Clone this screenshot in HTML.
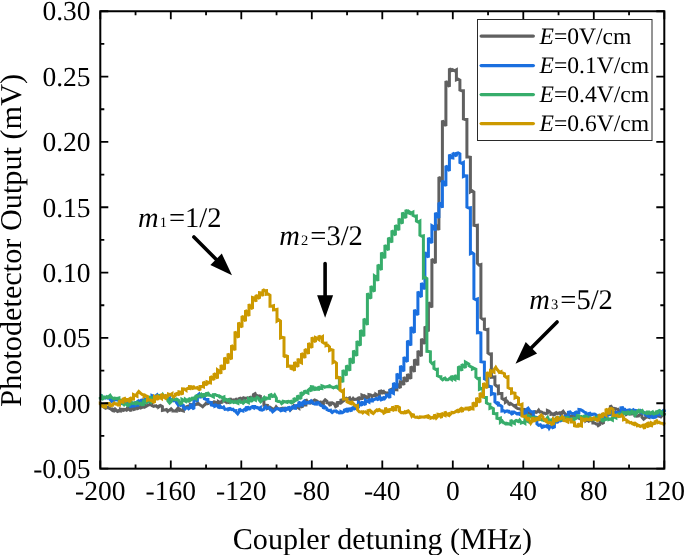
<!DOCTYPE html>
<html><head><meta charset="utf-8"><title>Photodetector Output vs Coupler detuning</title>
<style>html,body{margin:0;padding:0;background:#fff}body{width:685px;height:555px;overflow:hidden}</style></head>
<body>
<svg width="685" height="555" viewBox="0 0 685 555" style="display:block;will-change:transform" text-rendering="geometricPrecision">
<rect width="685" height="555" fill="#fff"/>
<g fill="none" stroke-width="3" stroke-linejoin="miter" stroke-miterlimit="2.2" stroke-linecap="butt">
<path stroke="#606060" d="M100.30,405.5L101.15,404.4L102.90,405.7L102.90,406.5L104.65,407.6L106.40,406.1L106.40,408.0L108.15,407.4L109.90,408.7L109.90,408.1L111.65,409.7L113.40,408.4L113.40,411.9L115.15,409.1L116.90,410.6L116.90,412.0L118.65,410.7L120.40,411.0L120.40,409.0L122.15,409.5L123.90,411.3L123.90,409.4L125.65,409.5L127.40,410.8L127.40,408.1L129.15,407.6L130.90,411.4L130.90,407.9L132.65,407.1L134.40,410.6L134.40,406.4L136.15,407.4L137.90,409.5L137.90,407.3L139.65,406.7L141.40,408.7L141.40,404.9L143.15,406.6L144.90,407.9L144.90,405.1L146.65,406.1L148.40,405.0L148.40,405.0L150.15,404.3L151.90,404.3L151.90,405.6L153.65,406.4L155.40,405.7L155.40,405.1L157.15,406.8L158.90,406.0L158.90,406.8L160.65,405.6L162.40,406.7L162.40,410.4L164.15,410.0L165.90,409.8L165.90,408.5L167.65,411.3L169.40,410.1L169.40,410.6L171.15,408.8L172.90,410.6L172.90,411.1L174.65,411.1L176.40,411.2L176.40,410.1L178.15,407.8L179.90,411.6L179.90,409.3L181.65,410.4L183.40,411.0L183.40,406.9L185.15,407.3L186.90,407.4L186.90,406.6L188.65,406.0L190.40,408.2L190.40,404.3L192.15,404.8L193.90,406.5L193.90,404.3L195.65,404.6L197.40,404.3L197.40,402.4L199.15,404.3L200.90,405.4L200.90,405.4L202.65,406.7L204.40,404.9L204.40,405.3L206.15,403.1L207.90,404.4L207.90,403.9L209.65,402.4L211.40,403.2L211.40,403.3L213.15,402.4L214.90,404.3L214.90,402.0L216.65,402.5L218.40,404.9L218.40,401.6L220.15,402.6L221.90,402.3L221.90,401.0L223.65,400.5L225.40,401.7L225.40,401.6L227.15,401.0L228.90,403.4L228.90,399.5L230.65,399.2L232.40,401.3L232.40,399.0L234.15,401.6L235.90,401.8L235.90,398.1L237.65,401.8L239.40,401.1L239.40,397.4L241.15,399.5L242.90,399.3L242.90,397.0L244.65,398.9L246.40,397.9L246.40,397.5L248.15,398.8L249.90,397.3L249.90,396.3L251.65,399.7L253.40,398.9L253.40,394.7L255.15,393.7L256.90,397.8L256.90,395.1L258.65,396.8L260.40,395.3L260.40,399.4L262.15,400.2L263.90,399.6L263.90,405.2L265.65,405.2L267.40,405.3L267.40,408.4L269.15,407.6L270.90,408.5L270.90,407.8L272.65,409.0L274.40,409.0L274.40,409.8L276.15,406.8L277.90,409.0L277.90,408.9L279.65,409.5L281.40,408.1L281.40,407.6L283.15,409.4L284.90,409.4L284.90,408.4L286.65,408.8L288.40,408.3L288.40,407.7L290.15,410.1L291.90,408.4L291.90,407.8L293.65,405.8L295.40,408.5L295.40,407.4L297.15,407.0L298.90,408.2L298.90,404.9L300.65,405.6L302.40,407.4L302.40,402.7L304.15,404.9L305.90,405.0L305.90,399.2L307.65,402.7L309.40,403.0L309.40,400.8L311.15,402.4L312.90,403.1L312.90,401.0L314.65,400.0L316.40,400.7L316.40,402.1L318.15,401.8L319.90,403.1L319.90,401.2L321.65,403.7L323.40,403.7L323.40,401.8L325.15,399.9L326.90,401.3L326.90,402.7L328.65,403.1L330.40,406.0L330.40,402.8L332.15,402.7L333.90,404.0L333.90,402.9L335.65,406.6L337.40,405.7L337.40,402.5L339.15,402.3L340.90,403.9L340.90,399.0L342.65,401.5L344.40,400.2L344.40,400.0L346.15,398.4L347.90,400.3L347.90,398.6L349.65,397.7L351.40,401.6L351.40,400.7L353.15,398.4L354.90,400.2L354.90,399.5L356.65,399.1L358.40,400.1L358.40,397.1L360.15,398.6L361.90,398.6L361.90,395.1L363.65,395.9L365.40,398.9L365.40,396.3L367.15,397.3L368.90,398.5L368.90,394.6L370.65,395.0L372.40,396.1L372.40,396.3L374.15,395.1L375.90,396.4L375.90,394.2L377.65,395.2L379.40,394.8L379.40,391.5L381.15,391.0L382.90,393.9L382.90,390.4L384.65,392.9L386.40,392.5L386.40,392.0L388.15,394.5L389.90,392.8L389.90,390.0L391.65,389.2L393.40,393.0L393.40,387.1L395.15,389.6L396.90,389.8L396.90,383.5L398.65,385.8L400.40,388.0L400.40,381.7L402.15,381.6L403.90,385.0L403.90,377.0L405.65,380.1L407.40,381.4L407.40,374.0L409.15,376.6L410.90,378.7L410.90,366.4L412.65,368.3L414.40,371.9L414.40,359.4L416.15,361.4L417.90,365.5L417.90,350.8L419.65,353.4L421.40,356.3L421.40,338.8L423.15,341.2L424.90,343.8L424.90,326.4L426.65,328.7L428.40,331.5L428.40,302.6L430.15,304.6L431.90,307.5L431.90,259.1L433.65,260.8L435.40,263.2L435.40,224.6L437.15,226.4L438.90,230.1L438.90,177.0L440.65,179.3L442.40,182.2L442.40,120.6L444.15,123.4L445.90,126.0L445.90,81.0L447.65,83.8L449.40,86.7L449.40,68.5L451.15,70.4L452.90,68.9L452.90,69.8L454.65,70.8L456.40,69.8L456.40,79.9L458.15,79.2L459.90,80.1L459.90,90.0L461.65,90.8L463.40,90.8L463.40,119.0L465.15,119.6L466.90,119.5L466.90,156.9L468.65,156.9L470.40,157.3L470.40,191.8L472.15,190.7L473.90,192.0L473.90,225.2L475.65,225.6L477.40,225.3L477.40,263.3L479.15,265.1L480.90,264.6L480.90,317.9L482.65,319.3L484.40,319.1L484.40,329.2L486.15,329.8L487.90,329.4L487.90,352.9L489.65,354.1L491.40,353.9L491.40,377.2L493.15,376.9L494.90,376.8L494.90,384.6L496.65,386.2L498.40,386.0L498.40,393.7L500.15,393.5L501.90,393.5L501.90,398.4L503.65,399.6L505.40,398.7L505.40,402.3L507.15,401.2L508.90,403.4L508.90,405.1L510.65,403.4L512.40,404.6L512.40,404.6L514.15,406.0L515.90,405.4L515.90,407.5L517.65,408.5L519.40,408.7L519.40,408.3L521.15,410.1L522.90,409.7L522.90,409.8L524.65,409.6L526.40,410.0L526.40,410.5L528.15,413.2L529.90,412.6L529.90,413.1L531.65,415.1L533.40,412.4L533.40,412.3L535.15,411.6L536.90,413.0L536.90,412.3L538.65,410.1L540.40,413.0L540.40,411.6L542.15,412.2L543.90,414.1L543.90,412.6L545.65,413.9L547.40,413.3L547.40,410.5L549.15,411.2L550.90,413.1L550.90,414.3L552.65,413.9L554.40,415.7L554.40,413.6L556.15,412.7L557.90,414.4L557.90,413.4L559.65,412.8L561.40,415.3L561.40,412.8L563.15,411.2L564.90,413.9L564.90,413.3L566.65,415.7L568.40,414.6L568.40,415.9L570.15,416.5L571.90,415.8L571.90,416.0L573.65,416.8L575.40,416.9L575.40,416.1L577.15,416.8L578.90,417.8L578.90,418.2L580.65,419.0L582.40,419.0L582.40,418.1L584.15,417.9L585.90,419.8L585.90,420.6L587.65,419.4L589.40,422.1L589.40,421.0L591.15,419.6L592.90,422.0L592.90,422.9L594.65,422.9L596.40,424.3L596.40,423.0L598.15,425.6L599.90,424.4L599.90,419.8L601.65,422.1L603.40,423.8L603.40,414.7L605.15,416.1L606.90,418.5L606.90,409.8L608.65,412.1L610.40,415.0L610.40,405.4L612.15,407.9L613.90,408.7L613.90,407.8L615.65,409.2L617.40,408.6L617.40,408.5L619.15,410.9L620.90,410.9L620.90,409.5L622.65,412.6L624.40,411.5L624.40,411.1L626.15,414.5L627.90,413.4L627.90,412.2L629.65,413.9L631.40,413.9L631.40,413.5L633.15,412.1L634.90,415.2L634.90,415.8L636.65,416.2L638.40,415.9L638.40,415.6L640.15,414.4L641.90,415.5L641.90,417.2L643.65,419.2L645.40,417.8L645.40,417.5L647.15,416.8L648.90,417.4L648.90,415.6L650.65,414.5L652.40,416.3L652.40,414.6L654.15,416.9L655.90,415.1L655.90,414.1L657.65,415.9L659.40,416.3L659.40,413.7L661.15,416.5L662.90,414.6L662.90,412.7L664.30,413.9L664.30,415.0"/>
<path stroke="#1A6FDF" d="M100.30,395.9L101.15,395.6L102.90,398.8L102.90,398.0L104.65,397.2L106.40,398.7L106.40,398.5L108.15,397.2L109.90,399.0L109.90,399.3L111.65,401.5L113.40,400.8L113.40,399.9L115.15,399.4L116.90,399.7L116.90,399.8L118.65,399.6L120.40,400.5L120.40,402.9L122.15,403.6L123.90,403.1L123.90,402.0L125.65,401.2L127.40,403.2L127.40,406.0L129.15,404.3L130.90,407.6L130.90,403.9L132.65,406.1L134.40,405.9L134.40,401.8L136.15,405.2L137.90,405.2L137.90,400.2L139.65,401.5L141.40,401.5L141.40,399.1L143.15,401.9L144.90,401.0L144.90,398.1L146.65,401.1L148.40,401.3L148.40,396.9L150.15,399.5L151.90,398.9L151.90,395.5L153.65,396.2L155.40,398.2L155.40,396.1L157.15,394.7L158.90,397.6L158.90,396.0L160.65,396.5L162.40,396.2L162.40,396.2L164.15,396.6L165.90,396.3L165.90,397.2L167.65,399.2L169.40,398.2L169.40,399.4L171.15,400.0L172.90,400.4L172.90,401.4L174.65,399.6L176.40,402.0L176.40,402.4L178.15,404.8L179.90,402.9L179.90,406.1L181.65,404.7L183.40,405.5L183.40,407.3L185.15,408.9L186.90,407.2L186.90,406.9L188.65,408.8L190.40,407.5L190.40,403.9L192.15,407.5L193.90,409.0L193.90,397.3L195.65,398.7L197.40,401.7L197.40,395.5L199.15,394.0L200.90,398.3L200.90,395.7L202.65,396.5L204.40,397.7L204.40,398.8L206.15,399.4L207.90,399.4L207.90,401.7L209.65,402.3L211.40,402.6L211.40,405.1L213.15,405.4L214.90,405.0L214.90,406.2L216.65,405.5L218.40,405.8L218.40,408.2L220.15,406.0L221.90,408.4L221.90,408.2L223.65,407.0L225.40,410.2L225.40,409.2L227.15,409.0L228.90,408.6L228.90,409.5L230.65,408.8L232.40,410.2L232.40,408.3L234.15,410.7L235.90,410.6L235.90,412.0L237.65,413.9L239.40,411.2L239.40,408.8L241.15,410.5L242.90,411.0L242.90,410.5L244.65,409.3L246.40,411.0L246.40,407.5L248.15,407.3L249.90,410.0L249.90,408.1L251.65,406.9L253.40,407.8L253.40,406.4L255.15,406.4L256.90,408.5L256.90,406.7L258.65,408.6L260.40,407.6L260.40,409.8L262.15,410.2L263.90,409.4L263.90,408.6L265.65,406.7L267.40,409.1L267.40,408.2L269.15,407.6L270.90,410.8L270.90,409.2L272.65,411.8L274.40,410.4L274.40,410.4L276.15,408.8L277.90,408.6L277.90,408.6L279.65,409.3L281.40,411.7L281.40,408.3L283.15,410.0L284.90,410.6L284.90,407.5L286.65,409.5L288.40,408.9L288.40,406.5L290.15,409.7L291.90,407.5L291.90,406.0L293.65,408.0L295.40,408.2L295.40,405.7L297.15,405.6L298.90,406.1L298.90,401.5L300.65,404.9L302.40,405.2L302.40,402.6L304.15,401.1L305.90,404.5L305.90,402.7L307.65,402.5L309.40,402.6L309.40,402.4L311.15,400.9L312.90,402.6L312.90,403.2L314.65,404.0L316.40,404.1L316.40,402.8L318.15,402.5L319.90,404.0L319.90,404.8L321.65,405.8L323.40,406.3L323.40,408.8L325.15,407.0L326.90,408.6L326.90,409.6L328.65,410.5L330.40,410.2L330.40,410.9L332.15,412.5L333.90,411.2L333.90,411.0L335.65,410.8L337.40,412.8L337.40,411.8L339.15,413.0L340.90,412.8L340.90,411.7L342.65,412.6L344.40,411.4L344.40,410.0L346.15,409.3L347.90,412.2L347.90,409.1L349.65,408.9L351.40,411.4L351.40,408.5L353.15,407.5L354.90,409.8L354.90,404.6L356.65,407.2L358.40,406.9L358.40,402.5L360.15,403.7L361.90,405.8L361.90,402.5L363.65,402.9L365.40,405.1L365.40,400.1L367.15,401.2L368.90,402.1L368.90,398.9L370.65,401.0L372.40,401.0L372.40,399.5L374.15,399.8L375.90,398.8L375.90,397.6L377.65,399.6L379.40,399.0L379.40,395.8L381.15,399.9L382.90,399.2L382.90,397.0L384.65,398.5L386.40,396.4L386.40,395.1L388.15,395.1L389.90,398.1L389.90,389.2L391.65,392.3L393.40,393.2L393.40,382.9L395.15,385.0L396.90,388.2L396.90,373.4L398.65,377.4L400.40,378.4L400.40,365.8L402.15,369.1L403.90,371.2L403.90,356.9L405.65,359.8L407.40,361.8L407.40,340.8L409.15,342.4L410.90,345.5L410.90,326.9L412.65,330.4L414.40,332.8L414.40,309.7L416.15,312.7L417.90,315.1L417.90,291.6L419.65,294.3L421.40,297.1L421.40,283.0L423.15,286.3L424.90,289.3L424.90,252.3L426.65,254.6L428.40,257.4L428.40,237.7L430.15,240.9L431.90,243.1L431.90,225.6L433.65,226.7L435.40,230.6L435.40,212.7L437.15,215.8L438.90,217.9L438.90,202.8L440.65,204.1L442.40,207.7L442.40,180.4L444.15,183.8L445.90,185.9L445.90,165.7L447.65,167.9L449.40,171.1L449.40,154.4L451.15,157.7L452.90,158.0L452.90,153.0L454.65,154.5L456.40,156.3L456.40,153.4L458.15,152.9L459.90,153.8L459.90,162.6L461.65,163.3L463.40,162.4L463.40,176.5L465.15,175.8L466.90,175.9L466.90,207.1L468.65,208.0L470.40,207.7L470.40,253.6L472.15,252.8L473.90,254.0L473.90,298.6L475.65,299.6L477.40,298.9L477.40,332.8L479.15,332.5L480.90,332.9L480.90,361.7L482.65,362.1L484.40,362.2L484.40,378.8L486.15,379.7L487.90,378.6L487.90,386.7L489.65,386.3L491.40,386.7L491.40,394.2L493.15,393.5L494.90,394.0L494.90,401.8L496.65,403.4L498.40,402.1L498.40,405.2L500.15,405.3L501.90,406.6L501.90,411.0L503.65,410.7L505.40,411.3L505.40,411.7L507.15,410.9L508.90,411.3L508.90,412.1L510.65,412.5L512.40,414.8L512.40,412.1L514.15,412.1L515.90,413.2L515.90,413.1L517.65,413.7L519.40,414.4L519.40,413.3L521.15,412.9L522.90,414.0L522.90,411.0L524.65,412.1L526.40,415.4L526.40,409.5L528.15,408.2L529.90,410.8L529.90,410.8L531.65,412.0L533.40,411.7L533.40,417.7L535.15,417.0L536.90,417.4L536.90,423.8L538.65,425.3L540.40,424.8L540.40,424.8L542.15,427.4L543.90,426.8L543.90,425.9L545.65,426.1L547.40,427.0L547.40,424.2L549.15,428.2L550.90,425.3L550.90,425.1L552.65,427.6L554.40,426.9L554.40,421.5L556.15,420.8L557.90,423.1L557.90,418.0L559.65,418.7L561.40,421.7L561.40,417.1L563.15,418.0L564.90,417.7L564.90,415.3L566.65,417.0L568.40,418.4L568.40,412.3L570.15,411.9L571.90,414.1L571.90,413.5L573.65,413.6L575.40,414.7L575.40,411.4L577.15,413.0L578.90,412.7L578.90,409.5L580.65,409.7L582.40,410.6L582.40,410.7L584.15,412.0L585.90,412.8L585.90,414.1L587.65,414.0L589.40,415.4L589.40,412.2L591.15,415.0L592.90,414.4L592.90,414.1L594.65,414.0L596.40,415.1L596.40,415.7L598.15,417.8L599.90,417.7L599.90,415.4L601.65,415.5L603.40,418.0L603.40,414.6L605.15,417.0L606.90,417.5L606.90,412.3L608.65,414.6L610.40,414.5L610.40,411.6L612.15,413.0L613.90,413.5L613.90,412.3L615.65,412.4L617.40,412.2L617.40,411.8L619.15,413.3L620.90,412.8L620.90,407.9L622.65,407.7L624.40,410.6L624.40,408.3L626.15,412.0L627.90,411.6L627.90,410.2L629.65,409.8L631.40,410.5L631.40,411.1L633.15,409.9L634.90,412.6L634.90,410.3L636.65,410.6L638.40,412.0L638.40,412.2L640.15,410.7L641.90,413.2L641.90,414.0L643.65,412.3L645.40,413.5L645.40,414.8L647.15,415.6L648.90,416.9L648.90,416.6L650.65,417.1L652.40,417.4L652.40,415.5L654.15,416.2L655.90,417.9L655.90,412.4L657.65,414.2L659.40,414.9L659.40,411.5L661.15,411.9L662.90,413.2L662.90,411.0L664.30,409.7L664.30,412.1"/>
<path stroke="#37AD6B" d="M100.30,396.9L100.30,398.3L101.40,398.7L101.40,394.8L103.15,398.4L104.90,396.6L104.90,397.7L106.65,396.7L108.40,398.4L108.40,397.0L110.15,395.4L111.90,398.1L111.90,397.4L113.65,399.0L115.40,398.7L115.40,398.2L117.15,398.4L118.90,398.0L118.90,400.9L120.65,400.4L122.40,401.4L122.40,403.1L124.15,404.9L125.90,403.2L125.90,403.0L127.65,405.6L129.40,405.0L129.40,401.6L131.15,401.6L132.90,404.6L132.90,403.5L134.65,402.9L136.40,404.6L136.40,401.5L138.15,403.2L139.90,403.9L139.90,402.4L141.65,404.7L143.40,404.6L143.40,401.3L145.15,400.4L146.90,403.7L146.90,400.5L148.65,400.8L150.40,402.0L150.40,397.5L152.15,398.0L153.90,398.2L153.90,396.2L155.65,398.4L157.40,395.9L157.40,396.4L159.15,395.5L160.90,397.3L160.90,397.4L162.65,394.7L164.40,397.6L164.40,397.4L166.15,396.7L167.90,398.5L167.90,400.9L169.65,403.1L171.40,401.3L171.40,400.2L173.15,398.1L174.90,400.2L174.90,400.6L176.65,399.1L178.40,400.2L178.40,400.4L180.15,403.9L181.90,403.2L181.90,399.3L183.65,400.2L185.40,401.2L185.40,399.3L187.15,400.4L188.90,401.8L188.90,398.1L190.65,400.1L192.40,399.1L192.40,398.2L194.15,398.0L195.90,398.8L195.90,395.1L197.65,396.6L199.40,395.9L199.40,395.8L201.15,394.4L202.90,397.6L202.90,394.5L204.65,394.3L206.40,396.4L206.40,393.5L208.15,393.1L209.90,396.2L209.90,395.1L211.65,396.0L213.40,396.9L213.40,394.6L215.15,394.5L216.90,395.5L216.90,395.5L218.65,395.9L220.40,397.7L220.40,396.6L222.15,397.6L223.90,396.9L223.90,400.4L225.65,399.3L227.40,400.0L227.40,401.8L229.15,399.7L230.90,401.7L230.90,402.2L232.65,401.5L234.40,403.2L234.40,400.8L236.15,402.4L237.90,403.2L237.90,401.2L239.65,400.6L241.40,403.1L241.40,401.6L243.15,403.2L244.90,401.6L244.90,401.0L246.65,401.7L248.40,402.6L248.40,398.6L250.15,399.4L251.90,401.9L251.90,398.3L253.65,399.1L255.40,400.0L255.40,399.2L257.15,397.3L258.90,398.5L258.90,399.6L260.65,401.7L262.40,399.9L262.40,399.3L264.15,397.5L265.90,400.2L265.90,397.9L267.65,398.2L269.40,398.3L269.40,395.2L271.15,394.6L272.90,397.6L272.90,397.1L274.65,395.0L276.40,398.1L276.40,400.7L278.15,401.5L279.90,401.3L279.90,401.0L281.65,403.6L283.40,402.2L283.40,401.3L285.15,401.7L286.90,402.2L286.90,401.6L288.65,401.4L290.40,402.3L290.40,400.4L292.15,402.5L293.90,401.6L293.90,398.0L295.65,400.4L297.40,399.6L297.40,395.4L299.15,397.4L300.90,398.9L300.90,392.3L302.65,394.5L304.40,392.9L304.40,390.6L306.15,392.3L307.90,393.0L307.90,390.5L309.65,389.0L311.40,391.2L311.40,386.6L313.15,386.8L314.90,390.7L314.90,387.3L316.65,389.1L318.40,389.3L318.40,386.6L320.15,388.3L321.90,388.5L321.90,385.8L323.65,386.4L325.40,386.9L325.40,387.1L327.15,386.6L328.90,386.7L328.90,385.1L330.65,386.5L332.40,387.3L332.40,387.2L334.15,387.5L335.90,387.2L335.90,385.5L337.65,387.9L339.40,389.2L339.40,376.9L341.15,379.0L342.90,382.2L342.90,369.9L344.65,372.9L346.40,375.5L346.40,365.6L348.15,367.4L349.90,370.7L349.90,358.2L351.65,361.0L353.40,363.2L353.40,350.4L355.15,353.6L356.90,355.7L356.90,341.0L358.65,343.5L360.40,345.4L360.40,330.2L362.15,332.6L363.90,336.3L363.90,318.8L365.65,321.0L367.40,324.9L367.40,293.2L369.15,297.1L370.90,298.4L370.90,286.1L372.65,289.2L374.40,291.6L374.40,275.9L376.15,277.1L377.90,281.0L377.90,264.8L379.65,266.3L381.40,270.0L381.40,252.5L383.15,255.2L384.90,258.3L384.90,245.1L386.65,247.2L388.40,250.2L388.40,237.7L390.15,239.7L391.90,242.4L391.90,230.4L393.65,233.0L395.40,235.3L395.40,225.3L397.15,227.1L398.90,230.2L398.90,218.4L400.65,221.3L402.40,223.5L402.40,212.4L404.15,215.3L405.90,218.1L405.90,209.7L407.65,212.6L409.40,213.3L409.40,211.9L411.15,213.1L412.90,212.2L412.90,215.4L414.65,216.2L416.40,216.0L416.40,221.2L418.15,222.1L419.90,221.1L419.90,235.2L421.65,236.2L423.40,235.8L423.40,278.0L425.15,277.4L426.90,278.6L426.90,351.3L428.65,351.5L430.40,351.8L430.40,361.7L432.15,363.5L433.90,362.5L433.90,368.4L435.65,369.4L437.40,369.2L437.40,375.8L439.15,376.5L440.90,376.7L440.90,378.4L442.65,379.9L444.40,378.6L444.40,377.2L446.15,379.7L447.90,379.8L447.90,379.8L449.65,378.3L451.40,379.5L451.40,375.8L453.15,378.4L454.90,379.4L454.90,375.0L456.65,378.1L458.40,378.5L458.40,366.4L460.15,367.8L461.90,370.8L461.90,364.3L463.65,365.7L465.40,367.9L465.40,362.1L467.15,363.1L468.90,364.1L468.90,365.6L470.65,366.7L472.40,367.5L472.40,369.0L474.15,368.3L475.90,369.1L475.90,377.1L477.65,378.6L479.40,378.4L479.40,389.2L481.15,388.5L482.90,389.3L482.90,396.8L484.65,397.6L486.40,397.6L486.40,402.9L488.15,403.9L489.90,404.1L489.90,408.3L491.65,407.6L493.40,408.6L493.40,413.5L495.15,413.8L496.90,413.7L496.90,418.2L498.65,418.6L500.40,418.1L500.40,422.1L502.15,420.9L503.90,423.4L503.90,422.5L505.65,424.0L507.40,423.8L507.40,423.4L509.15,423.9L510.90,424.7L510.90,419.8L512.65,422.7L514.40,423.5L514.40,421.5L516.15,420.5L517.90,421.1L517.90,422.6L519.65,420.1L521.40,422.6L521.40,422.9L523.15,422.3L524.90,423.4L524.90,418.3L526.65,420.8L528.40,421.7L528.40,415.7L530.15,416.5L531.90,417.5L531.90,417.3L533.65,418.1L535.40,416.7L535.40,417.6L537.15,419.3L538.90,419.4L538.90,420.1L540.65,418.8L542.40,420.5L542.40,419.8L544.15,420.6L545.90,419.9L545.90,419.8L547.65,417.5L549.40,421.3L549.40,420.8L551.15,419.8L552.90,421.3L552.90,418.7L554.65,421.4L556.40,420.3L556.40,418.1L558.15,417.8L559.90,418.9L559.90,416.4L561.65,419.7L563.40,419.3L563.40,417.6L565.15,417.9L566.90,417.7L566.90,416.6L568.65,418.3L570.40,419.2L570.40,418.1L572.15,420.7L573.90,420.0L573.90,418.3L575.65,418.6L577.40,417.2L577.40,415.7L579.15,415.8L580.90,418.7L580.90,415.6L582.65,418.6L584.40,418.2L584.40,416.3L586.15,416.3L587.90,417.4L587.90,418.0L589.65,417.2L591.40,419.1L591.40,419.6L593.15,418.9L594.90,420.3L594.90,417.7L596.65,417.1L598.40,418.5L598.40,417.8L600.15,419.2L601.90,420.3L601.90,418.8L603.65,420.3L605.40,419.7L605.40,419.2L607.15,418.7L608.90,418.9L608.90,419.6L610.65,419.1L612.40,420.0L612.40,417.5L614.15,416.9L615.90,417.8L615.90,416.4L617.65,414.9L619.40,417.3L619.40,413.9L621.15,414.0L622.90,416.1L622.90,412.4L624.65,412.7L626.40,414.5L626.40,412.4L628.15,412.0L629.90,414.9L629.90,413.2L631.65,411.3L633.40,413.9L633.40,410.8L635.15,415.0L636.90,412.7L636.90,411.5L638.65,410.3L640.40,412.9L640.40,411.2L642.15,410.5L643.90,413.9L643.90,413.1L645.65,412.6L647.40,414.5L647.40,411.9L649.15,411.9L650.90,414.5L650.90,413.0L652.65,411.9L654.40,415.0L654.40,414.4L656.15,412.1L657.90,413.8L657.90,411.4L659.65,410.5L661.40,412.1L661.40,414.7L663.15,412.5L664.30,415.9"/>
<path stroke="#CC9900" d="M100.30,404.8L100.30,404.0L102.00,405.1L102.00,406.0L103.75,407.1L105.50,407.1L105.50,404.1L107.25,403.6L109.00,404.6L109.00,402.3L110.75,405.8L112.50,405.4L112.50,404.4L114.25,403.0L116.00,404.7L116.00,403.1L117.75,405.0L119.50,405.1L119.50,400.5L121.25,401.9L123.00,402.2L123.00,399.1L124.75,398.4L126.50,402.1L126.50,399.3L128.25,399.4L130.00,402.2L130.00,397.4L131.75,399.2L133.50,399.1L133.50,394.5L135.25,395.3L137.00,396.1L137.00,393.8L138.75,391.5L140.50,393.2L140.50,393.3L142.25,394.5L144.00,394.8L144.00,396.6L145.75,395.6L147.50,396.4L147.50,400.3L149.25,399.6L151.00,400.5L151.00,399.5L152.75,401.1L154.50,402.8L154.50,396.4L156.25,397.2L158.00,400.0L158.00,396.4L159.75,397.4L161.50,398.5L161.50,393.8L163.25,396.8L165.00,398.0L165.00,394.6L166.75,397.1L168.50,395.3L168.50,394.1L170.25,394.7L172.00,393.6L172.00,395.4L173.75,397.0L175.50,395.4L175.50,393.9L177.25,393.2L179.00,395.4L179.00,391.9L180.75,392.2L182.50,394.5L182.50,388.8L184.25,388.9L186.00,390.1L186.00,389.4L187.75,388.3L189.50,388.5L189.50,386.5L191.25,386.6L193.00,389.4L193.00,385.9L194.75,387.9L196.50,388.1L196.50,386.8L198.25,388.8L200.00,390.2L200.00,386.5L201.75,386.4L203.50,387.0L203.50,381.7L205.25,383.8L207.00,385.1L207.00,381.9L208.75,382.5L210.50,382.9L210.50,376.5L212.25,377.9L214.00,380.1L214.00,373.5L215.75,374.9L217.50,378.5L217.50,369.9L219.25,371.1L221.00,373.8L221.00,365.0L222.75,367.6L224.50,369.5L224.50,357.4L226.25,361.2L228.00,363.4L228.00,353.6L229.75,356.7L231.50,359.3L231.50,345.3L233.25,347.5L235.00,350.3L235.00,331.5L236.75,335.3L238.50,337.5L238.50,322.5L240.25,325.5L242.00,327.3L242.00,316.1L243.75,317.4L245.50,321.3L245.50,310.2L247.25,312.5L249.00,316.0L249.00,304.1L250.75,307.4L252.50,308.7L252.50,297.5L254.25,298.0L256.00,301.7L256.00,295.0L257.75,297.0L259.50,298.5L259.50,292.8L261.25,293.0L263.00,295.9L263.00,289.5L264.75,290.8L266.50,290.7L266.50,294.3L268.25,294.0L270.00,295.3L270.00,306.2L271.75,306.2L273.50,305.7L273.50,309.9L275.25,309.8L277.00,309.4L277.00,321.0L278.75,319.9L280.50,321.1L280.50,338.0L282.25,337.4L284.00,337.7L284.00,357.0L285.75,355.7L287.50,356.3L287.50,366.2L289.25,365.9L291.00,366.1L291.00,369.5L292.75,367.2L294.50,370.8L294.50,362.0L296.25,365.3L298.00,366.7L298.00,358.6L299.75,361.9L301.50,362.8L301.50,353.2L303.25,355.2L305.00,357.9L305.00,349.2L306.75,350.5L308.50,353.9L308.50,343.1L310.25,346.0L312.00,347.8L312.00,337.3L313.75,340.6L315.50,341.9L315.50,337.6L317.25,338.4L319.00,339.6L319.00,335.6L320.75,337.7L322.50,336.6L322.50,342.1L324.25,343.3L326.00,343.1L326.00,345.7L327.75,345.1L329.50,346.8L329.50,350.4L331.25,349.6L333.00,350.1L333.00,362.6L334.75,361.7L336.50,363.1L336.50,377.6L338.25,377.4L340.00,378.0L340.00,390.2L341.75,391.5L343.50,390.3L343.50,399.1L345.25,399.1L347.00,399.2L347.00,401.8L348.75,402.6L350.50,402.3L350.50,404.5L352.25,402.3L354.00,404.4L354.00,405.0L355.75,406.1L357.50,405.6L357.50,410.0L359.25,411.8L361.00,412.0L361.00,411.1L362.75,412.9L364.50,411.2L364.50,411.3L366.25,412.6L368.00,413.7L368.00,410.6L369.75,410.2L371.50,411.6L371.50,412.4L373.25,413.5L375.00,411.7L375.00,411.4L376.75,409.9L378.50,411.2L378.50,408.8L380.25,410.4L382.00,411.3L382.00,409.9L383.75,413.1L385.50,412.1L385.50,407.5L387.25,411.6L389.00,411.4L389.00,409.7L390.75,409.3L392.50,409.9L392.50,406.3L394.25,409.8L396.00,409.8L396.00,406.5L397.75,406.6L399.50,407.7L399.50,411.1L401.25,412.7L403.00,412.5L403.00,413.6L404.75,411.9L406.50,413.5L406.50,411.6L408.25,410.9L410.00,413.0L410.00,412.3L411.75,416.1L413.50,413.8L413.50,416.2L415.25,417.3L417.00,417.1L417.00,417.3L418.75,417.8L420.50,417.4L420.50,416.8L422.25,416.9L424.00,417.1L424.00,417.0L425.75,416.5L427.50,416.0L427.50,418.2L429.25,416.5L431.00,417.9L431.00,418.0L432.75,417.3L434.50,418.7L434.50,414.3L436.25,418.0L438.00,416.1L438.00,414.4L439.75,414.7L441.50,418.0L441.50,413.0L443.25,414.8L445.00,415.5L445.00,411.4L446.75,414.5L448.50,415.2L448.50,412.8L450.25,414.5L452.00,412.7L452.00,412.4L453.75,412.6L455.50,411.8L455.50,411.6L457.25,410.4L459.00,412.4L459.00,410.3L460.75,408.9L462.50,412.1L462.50,408.6L464.25,409.3L466.00,409.0L466.00,408.2L467.75,408.1L469.50,410.5L469.50,406.7L471.25,408.7L473.00,409.0L473.00,402.6L474.75,404.1L476.50,406.5L476.50,397.7L478.25,400.7L480.00,402.3L480.00,392.9L481.75,394.9L483.50,397.6L483.50,383.1L485.25,386.2L487.00,388.1L487.00,372.1L488.75,374.8L490.50,376.7L490.50,370.7L492.25,371.3L494.00,372.1L494.00,369.7L495.75,367.3L497.50,370.2L497.50,369.6L499.25,372.3L501.00,371.6L501.00,372.6L502.75,372.9L504.50,373.7L504.50,376.0L506.25,377.3L508.00,376.8L508.00,387.6L509.75,388.5L511.50,388.6L511.50,393.3L513.25,392.8L515.00,393.2L515.00,397.9L516.75,397.0L518.50,398.0L518.50,404.3L520.25,405.0L522.00,404.3L522.00,416.0L523.75,416.5L525.50,416.1L525.50,417.0L527.25,419.3L529.00,417.4L529.00,419.4L530.75,423.1L532.50,420.5L532.50,417.3L534.25,420.9L536.00,420.1L536.00,418.6L537.75,418.0L539.50,420.2L539.50,416.6L541.25,415.1L543.00,416.9L543.00,418.1L544.75,420.2L546.50,418.9L546.50,421.8L548.25,423.0L550.00,421.6L550.00,421.7L551.75,424.4L553.50,423.8L553.50,418.8L555.25,419.8L557.00,421.4L557.00,416.2L558.75,419.7L560.50,418.6L560.50,419.0L562.25,416.6L564.00,417.9L564.00,420.7L565.75,420.8L567.50,421.7L567.50,419.3L569.25,419.7L571.00,419.6L571.00,422.0L572.75,422.1L574.50,422.6L574.50,425.8L576.25,426.2L578.00,426.2L578.00,423.4L579.75,425.4L581.50,425.9L581.50,418.4L583.25,419.2L585.00,421.6L585.00,419.3L586.75,418.9L588.50,420.0L588.50,420.5L590.25,418.6L592.00,420.4L592.00,418.6L593.75,417.8L595.50,420.0L595.50,418.2L597.25,420.5L599.00,419.7L599.00,414.3L600.75,416.7L602.50,416.5L602.50,413.1L604.25,414.4L606.00,415.4L606.00,408.8L607.75,410.6L609.50,414.3L609.50,408.9L611.25,408.3L613.00,409.3L613.00,415.4L614.75,415.0L616.50,416.3L616.50,414.6L618.25,416.4L620.00,416.6L620.00,417.0L621.75,415.1L623.50,417.2L623.50,419.8L625.25,419.4L627.00,420.5L627.00,422.0L628.75,421.8L630.50,423.3L630.50,421.9L632.25,423.6L634.00,423.3L634.00,425.4L635.75,423.7L637.50,424.8L637.50,425.7L639.25,425.5L641.00,427.0L641.00,426.4L642.75,425.3L644.50,428.9L644.50,425.2L646.25,424.3L648.00,427.4L648.00,422.0L649.75,425.4L651.50,425.7L651.50,423.0L653.25,423.9L655.00,423.4L655.00,421.7L656.75,420.8L658.50,423.6L658.50,421.7L660.25,423.0L662.00,423.2L662.00,423.0L663.75,424.3L664.30,422.4"/>
</g>
<path d="M100.30,468.6v-8M100.30,11.25v8M135.55,468.6v-4M135.55,11.25v4M170.80,468.6v-8M170.80,11.25v8M206.05,468.6v-4M206.05,11.25v4M241.30,468.6v-8M241.30,11.25v8M276.55,468.6v-4M276.55,11.25v4M311.80,468.6v-8M311.80,11.25v8M347.05,468.6v-4M347.05,11.25v4M382.30,468.6v-8M382.30,11.25v8M417.55,468.6v-4M417.55,11.25v4M452.80,468.6v-8M452.80,11.25v8M488.05,468.6v-4M488.05,11.25v4M523.30,468.6v-8M523.30,11.25v8M558.55,468.6v-4M558.55,11.25v4M593.80,468.6v-8M593.80,11.25v8M629.05,468.6v-4M629.05,11.25v4M664.30,468.6v-8M664.30,11.25v8M100.3,468.60h8M664.3,468.60h-8M100.3,435.93h4M664.3,435.93h-4M100.3,403.26h8M664.3,403.26h-8M100.3,370.60h4M664.3,370.60h-4M100.3,337.93h8M664.3,337.93h-8M100.3,305.26h4M664.3,305.26h-4M100.3,272.59h8M664.3,272.59h-8M100.3,239.93h4M664.3,239.93h-4M100.3,207.26h8M664.3,207.26h-8M100.3,174.59h4M664.3,174.59h-4M100.3,141.92h8M664.3,141.92h-8M100.3,109.25h4M664.3,109.25h-4M100.3,76.59h8M664.3,76.59h-8M100.3,43.92h4M664.3,43.92h-4M100.3,11.25h8M664.3,11.25h-8" stroke="#000" stroke-width="1.8" fill="none"/>
<rect x="100.3" y="11.25" width="564.0" height="457.4" fill="none" stroke="#000" stroke-width="2"/>
<g font-family="'Liberation Serif', serif" font-size="27.5" fill="#000">
<text x="100.3" y="500.3" text-anchor="middle">-200</text>
<text x="170.8" y="500.3" text-anchor="middle">-160</text>
<text x="241.3" y="500.3" text-anchor="middle">-120</text>
<text x="311.8" y="500.3" text-anchor="middle">-80</text>
<text x="382.3" y="500.3" text-anchor="middle">-40</text>
<text x="452.8" y="500.3" text-anchor="middle">0</text>
<text x="523.3" y="500.3" text-anchor="middle">40</text>
<text x="593.8" y="500.3" text-anchor="middle">80</text>
<text x="664.3" y="500.3" text-anchor="middle">120</text>
<text x="90.5" y="477.8" text-anchor="end">-0.05</text>
<text x="90.5" y="412.5" text-anchor="end">0.00</text>
<text x="90.5" y="347.1" text-anchor="end">0.05</text>
<text x="90.5" y="281.8" text-anchor="end">0.10</text>
<text x="90.5" y="216.5" text-anchor="end">0.15</text>
<text x="90.5" y="151.1" text-anchor="end">0.20</text>
<text x="90.5" y="85.8" text-anchor="end">0.25</text>
<text x="90.5" y="20.4" text-anchor="end">0.30</text>
</g>
<text x="382.4" y="548.5" text-anchor="middle" font-family="'Liberation Serif', serif" font-size="30.1">Coupler detuning (MHz)</text>
<text transform="translate(20.6,240.3) rotate(-90)" text-anchor="middle" font-family="'Liberation Serif', serif" font-size="30.25">Photodetector Output (mV)</text>
<rect x="477.5" y="19.5" width="174.5" height="121" fill="#fff" stroke="#2a2a2a" stroke-width="1"/>
<path d="M481.2,36.1H533.3" stroke="#606060" stroke-width="3.4" stroke-linecap="round"/>
<text x="539.5" y="44.2" font-family="'Liberation Serif', serif" font-size="23.6"><tspan font-style="italic">E</tspan>=0V/cm</text>
<path d="M481.2,65.6H533.3" stroke="#1A6FDF" stroke-width="3.4" stroke-linecap="round"/>
<text x="539.5" y="73.2" font-family="'Liberation Serif', serif" font-size="23.6"><tspan font-style="italic">E</tspan>=0.1V/cm</text>
<path d="M481.2,94.6H533.3" stroke="#37AD6B" stroke-width="3.4" stroke-linecap="round"/>
<text x="539.5" y="102.3" font-family="'Liberation Serif', serif" font-size="23.6"><tspan font-style="italic">E</tspan>=0.4V/cm</text>
<path d="M481.2,123.6H533.3" stroke="#CC9900" stroke-width="3.4" stroke-linecap="round"/>
<text x="539.5" y="131.4" font-family="'Liberation Serif', serif" font-size="23.6"><tspan font-style="italic">E</tspan>=0.6V/cm</text>
<text x="138" y="226.9" font-family="'Liberation Serif', serif" font-size="28.5"><tspan font-style="italic">m</tspan><tspan font-size="14.5" dx="1.2">1</tspan><tspan dx="2">=1/2</tspan></text>
<text x="279.3" y="245.1" font-family="'Liberation Serif', serif" font-size="28.5"><tspan font-style="italic">m</tspan><tspan font-size="14.5" dx="1.2">2</tspan><tspan dx="2">=3/2</tspan></text>
<text x="529.3" y="308.8" font-family="'Liberation Serif', serif" font-size="28.5"><tspan font-style="italic">m</tspan><tspan font-size="14.5" dx="1.2">3</tspan><tspan dx="2">=5/2</tspan></text>
<path d="M193.9,237.0L216.8,260.0" stroke="#000" stroke-width="3.6" stroke-linecap="round"/><path d="M232.0,275.2L210.4,264.9L221.8,253.6Z" fill="#000"/>
<path d="M325.1,263.6L325.1,296.2" stroke="#000" stroke-width="3.6" stroke-linecap="round"/><path d="M325.1,317.7L317.1,295.2L333.1,295.2Z" fill="#000"/>
<path d="M557.1,322.0L530.7,348.5" stroke="#000" stroke-width="3.6" stroke-linecap="round"/><path d="M515.5,363.7L525.7,342.1L537.1,353.4Z" fill="#000"/>
</svg>
</body></html>
